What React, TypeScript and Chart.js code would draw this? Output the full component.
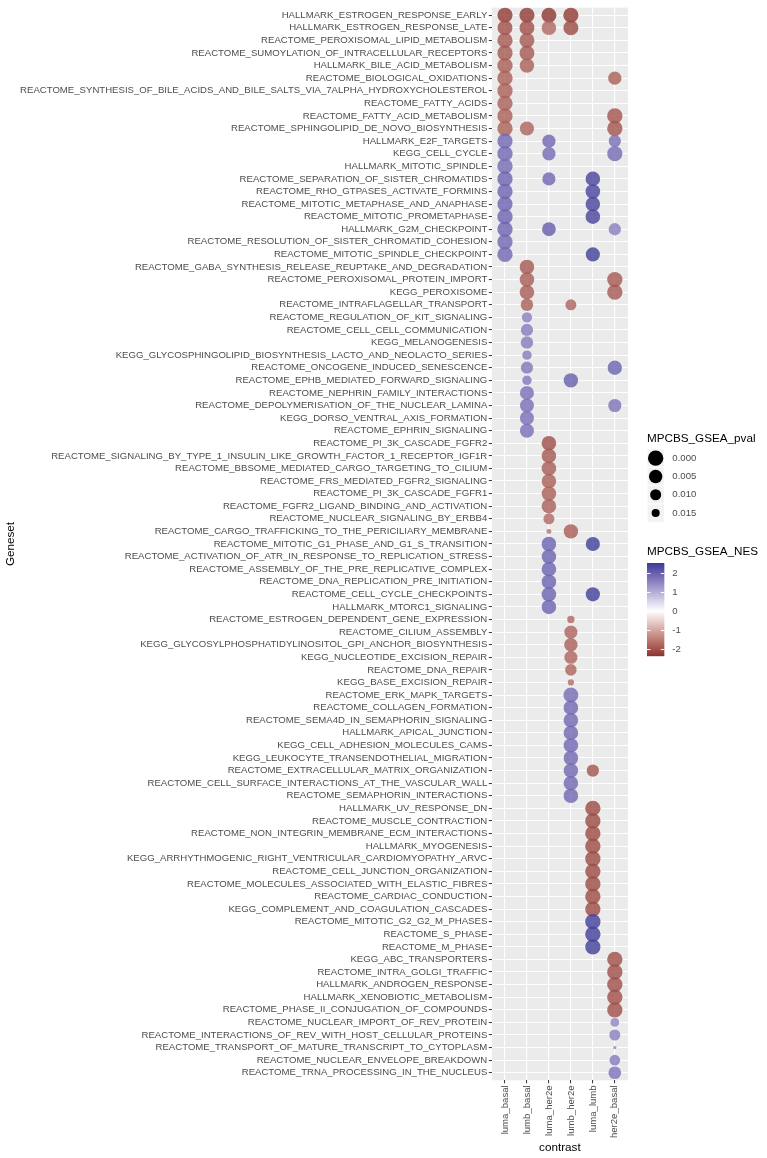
import React, { useEffect, useRef } from "react";
import { Chart, registerables } from "chart.js";
Chart.register(...registerables);

const genesets = [
  "HALLMARK_ESTROGEN_RESPONSE_EARLY",
  "HALLMARK_ESTROGEN_RESPONSE_LATE",
  "REACTOME_PEROXISOMAL_LIPID_METABOLISM",
  "REACTOME_SUMOYLATION_OF_INTRACELLULAR_RECEPTORS",
  "HALLMARK_BILE_ACID_METABOLISM",
  "REACTOME_BIOLOGICAL_OXIDATIONS",
  "REACTOME_SYNTHESIS_OF_BILE_ACIDS_AND_BILE_SALTS_VIA_7ALPHA_HYDROXYCHOLESTEROL",
  "REACTOME_FATTY_ACIDS",
  "REACTOME_FATTY_ACID_METABOLISM",
  "REACTOME_SPHINGOLIPID_DE_NOVO_BIOSYNTHESIS",
  "HALLMARK_E2F_TARGETS",
  "KEGG_CELL_CYCLE",
  "HALLMARK_MITOTIC_SPINDLE",
  "REACTOME_SEPARATION_OF_SISTER_CHROMATIDS",
  "REACTOME_RHO_GTPASES_ACTIVATE_FORMINS",
  "REACTOME_MITOTIC_METAPHASE_AND_ANAPHASE",
  "REACTOME_MITOTIC_PROMETAPHASE",
  "HALLMARK_G2M_CHECKPOINT",
  "REACTOME_RESOLUTION_OF_SISTER_CHROMATID_COHESION",
  "REACTOME_MITOTIC_SPINDLE_CHECKPOINT",
  "REACTOME_GABA_SYNTHESIS_RELEASE_REUPTAKE_AND_DEGRADATION",
  "REACTOME_PEROXISOMAL_PROTEIN_IMPORT",
  "KEGG_PEROXISOME",
  "REACTOME_INTRAFLAGELLAR_TRANSPORT",
  "REACTOME_REGULATION_OF_KIT_SIGNALING",
  "REACTOME_CELL_CELL_COMMUNICATION",
  "KEGG_MELANOGENESIS",
  "KEGG_GLYCOSPHINGOLIPID_BIOSYNTHESIS_LACTO_AND_NEOLACTO_SERIES",
  "REACTOME_ONCOGENE_INDUCED_SENESCENCE",
  "REACTOME_EPHB_MEDIATED_FORWARD_SIGNALING",
  "REACTOME_NEPHRIN_FAMILY_INTERACTIONS",
  "REACTOME_DEPOLYMERISATION_OF_THE_NUCLEAR_LAMINA",
  "KEGG_DORSO_VENTRAL_AXIS_FORMATION",
  "REACTOME_EPHRIN_SIGNALING",
  "REACTOME_PI_3K_CASCADE_FGFR2",
  "REACTOME_SIGNALING_BY_TYPE_1_INSULIN_LIKE_GROWTH_FACTOR_1_RECEPTOR_IGF1R",
  "REACTOME_BBSOME_MEDIATED_CARGO_TARGETING_TO_CILIUM",
  "REACTOME_FRS_MEDIATED_FGFR2_SIGNALING",
  "REACTOME_PI_3K_CASCADE_FGFR1",
  "REACTOME_FGFR2_LIGAND_BINDING_AND_ACTIVATION",
  "REACTOME_NUCLEAR_SIGNALING_BY_ERBB4",
  "REACTOME_CARGO_TRAFFICKING_TO_THE_PERICILIARY_MEMBRANE",
  "REACTOME_MITOTIC_G1_PHASE_AND_G1_S_TRANSITION",
  "REACTOME_ACTIVATION_OF_ATR_IN_RESPONSE_TO_REPLICATION_STRESS",
  "REACTOME_ASSEMBLY_OF_THE_PRE_REPLICATIVE_COMPLEX",
  "REACTOME_DNA_REPLICATION_PRE_INITIATION",
  "REACTOME_CELL_CYCLE_CHECKPOINTS",
  "HALLMARK_MTORC1_SIGNALING",
  "REACTOME_ESTROGEN_DEPENDENT_GENE_EXPRESSION",
  "REACTOME_CILIUM_ASSEMBLY",
  "KEGG_GLYCOSYLPHOSPHATIDYLINOSITOL_GPI_ANCHOR_BIOSYNTHESIS",
  "KEGG_NUCLEOTIDE_EXCISION_REPAIR",
  "REACTOME_DNA_REPAIR",
  "KEGG_BASE_EXCISION_REPAIR",
  "REACTOME_ERK_MAPK_TARGETS",
  "REACTOME_COLLAGEN_FORMATION",
  "REACTOME_SEMA4D_IN_SEMAPHORIN_SIGNALING",
  "HALLMARK_APICAL_JUNCTION",
  "KEGG_CELL_ADHESION_MOLECULES_CAMS",
  "KEGG_LEUKOCYTE_TRANSENDOTHELIAL_MIGRATION",
  "REACTOME_EXTRACELLULAR_MATRIX_ORGANIZATION",
  "REACTOME_CELL_SURFACE_INTERACTIONS_AT_THE_VASCULAR_WALL",
  "REACTOME_SEMAPHORIN_INTERACTIONS",
  "HALLMARK_UV_RESPONSE_DN",
  "REACTOME_MUSCLE_CONTRACTION",
  "REACTOME_NON_INTEGRIN_MEMBRANE_ECM_INTERACTIONS",
  "HALLMARK_MYOGENESIS",
  "KEGG_ARRHYTHMOGENIC_RIGHT_VENTRICULAR_CARDIOMYOPATHY_ARVC",
  "REACTOME_CELL_JUNCTION_ORGANIZATION",
  "REACTOME_MOLECULES_ASSOCIATED_WITH_ELASTIC_FIBRES",
  "REACTOME_CARDIAC_CONDUCTION",
  "KEGG_COMPLEMENT_AND_COAGULATION_CASCADES",
  "REACTOME_MITOTIC_G2_G2_M_PHASES",
  "REACTOME_S_PHASE",
  "REACTOME_M_PHASE",
  "KEGG_ABC_TRANSPORTERS",
  "REACTOME_INTRA_GOLGI_TRAFFIC",
  "HALLMARK_ANDROGEN_RESPONSE",
  "HALLMARK_XENOBIOTIC_METABOLISM",
  "REACTOME_PHASE_II_CONJUGATION_OF_COMPOUNDS",
  "REACTOME_NUCLEAR_IMPORT_OF_REV_PROTEIN",
  "REACTOME_INTERACTIONS_OF_REV_WITH_HOST_CELLULAR_PROTEINS",
  "REACTOME_TRANSPORT_OF_MATURE_TRANSCRIPT_TO_CYTOPLASM",
  "REACTOME_NUCLEAR_ENVELOPE_BREAKDOWN",
  "REACTOME_TRNA_PROCESSING_IN_THE_NUCLEUS",
];

const contrasts = ["luma_basal", "lumb_basal", "luma_her2e", "lumb_her2e", "luma_lumb", "her2e_basal"];

// each entry: [geneset index, NES, pval]
const lumaBasal = [
  [0, -2.3, 0.0005], [1, -2.05, 0.001], [2, -1.95, 0], [3, -1.95, 0], [4, -1.9, 0],
  [5, -1.85, 0], [6, -1.85, 0], [7, -1.85, 0], [8, -1.85, 0], [9, -1.85, 0],
  [10, 1.9, 0], [11, 1.9, 0], [12, 1.85, 0], [13, 1.95, 0], [14, 1.95, 0],
  [15, 1.95, 0], [16, 1.95, 0], [17, 1.95, 0], [18, 1.9, 0], [19, 1.9, 0],
];
const lumbBasal = [
  [0, -2.3, 0.0005], [1, -2.05, 0.001], [2, -1.95, 0.001], [3, -1.95, 0.001], [4, -1.85, 0.002],
  [9, -1.8, 0.003], [20, -1.95, 0.002], [21, -1.9, 0.002], [22, -1.9, 0.002], [23, -1.85, 0.007],
  [24, 1.6, 0.0115], [25, 1.65, 0.0075], [26, 1.65, 0.007], [27, 1.65, 0.013], [28, 1.7, 0.0075],
  [29, 1.7, 0.013], [30, 1.8, 0.0035], [31, 1.8, 0.0035], [32, 1.8, 0.003], [33, 1.8, 0.003],
];
const lumaHer2e = [
  [0, -2.35, 0.001], [1, -1.75, 0.002], [10, 1.9, 0.005], [11, 1.85, 0.005], [13, 1.9, 0.0055],
  [17, 2.05, 0.004], [34, -2.05, 0.002], [35, -1.95, 0.002], [36, -1.9, 0.002], [37, -1.85, 0.002],
  [38, -1.85, 0.002], [39, -1.85, 0.002], [40, -1.75, 0.01], [41, -1.6, 0.0186], [42, 1.95, 0.002],
  [43, 1.95, 0.002], [44, 1.95, 0.002], [45, 1.95, 0.002], [46, 1.95, 0.002], [47, 1.95, 0.002],
];
const lumbHer2e = [
  [0, -2.3, 0.0005], [1, -2.1, 0.001], [23, -1.8, 0.0101], [29, 2.0, 0.0025], [41, -1.9, 0.0025],
  [48, -1.75, 0.016], [49, -1.8, 0.0056], [50, -1.85, 0.0047], [51, -1.8, 0.0056], [52, -1.8, 0.009],
  [53, -1.7, 0.0174], [54, 1.85, 0.001], [55, 1.9, 0.002], [56, 1.9, 0.002], [57, 1.9, 0.002],
  [58, 1.9, 0.002], [59, 1.9, 0.002], [60, 1.9, 0.002], [61, 1.9, 0.002], [62, 1.9, 0.002],
];
const lumaLumb = [
  [13, 2.4, 0.002], [14, 2.4, 0.002], [15, 2.4, 0.002], [16, 2.4, 0.002], [19, 2.45, 0.003],
  [42, 2.45, 0.003], [46, 2.45, 0.003], [60, -2.0, 0.0074], [63, -2.1, 0], [64, -2.1, 0],
  [65, -2.1, 0], [66, -2.1, 0], [67, -2.1, 0], [68, -2.1, 0], [69, -2.1, 0],
  [70, -2.1, 0], [71, -2.1, 0], [72, 2.45, 0], [73, 2.45, 0], [74, 2.45, 0],
];
const her2eBasal = [
  [5, -1.85, 0.0052], [8, -2.0, 0], [9, -2.0, 0], [10, 1.8, 0.0074], [11, 1.85, 0.0005],
  [17, 1.6, 0.0074], [21, -1.95, 0], [22, -1.95, 0], [28, 1.95, 0.0025], [31, 1.75, 0.0056],
  [75, -2.05, 0], [76, -2.05, 0], [77, -2.05, 0], [78, -2.05, 0], [79, -2.05, 0],
  [80, 1.5, 0.0142], [81, 1.6, 0.01], [82, 1.5, 0.0198], [83, 1.65, 0.0107], [84, 1.75, 0.0065],
];
const seriesByContrast = [lumaBasal, lumbBasal, lumaHer2e, lumbHer2e, lumaLumb, her2eBasal];

const pvalBreaks = [0, 0.005, 0.01, 0.015];
const nesBreaks = [2, 1, 0, -1, -2];
const nesLimits = [-2.37, 2.53];

// ---------- styling helpers ----------
const FONT = "'Liberation Sans', Arial, sans-serif";
const LOW = [0x83, 0x24, 0x24];
const MID = [255, 255, 255];
const HIGH = [0x3a, 0x3a, 0x98];

function toLin(c: number) { c /= 255; return c <= 0.04045 ? c / 12.92 : Math.pow((c + 0.055) / 1.055, 2.4); }
function fromLin(c: number) { const v = c <= 0.0031308 ? 12.92 * c : 1.055 * Math.pow(c, 1 / 2.4) - 0.055; return Math.round(Math.max(0, Math.min(1, v)) * 255); }
const Xn = 0.95047, Zn = 1.08883;
function f(t: number) { return t > 0.008856 ? Math.cbrt(t) : 7.787 * t + 16 / 116; }
function finv(t: number) { return t > 0.206893 ? t * t * t : (t - 16 / 116) / 7.787; }
function rgb2lab(c: number[]) {
  const R = toLin(c[0]), G = toLin(c[1]), B = toLin(c[2]);
  const X = (0.4124 * R + 0.3576 * G + 0.1805 * B) / Xn;
  const Y = 0.2126 * R + 0.7152 * G + 0.0722 * B;
  const Z = (0.0193 * R + 0.1192 * G + 0.9505 * B) / Zn;
  const fx = f(X), fy = f(Y), fz = f(Z);
  return [116 * fy - 16, 500 * (fx - fy), 200 * (fy - fz)];
}
function lab2rgb(l: number[]) {
  const fy = (l[0] + 16) / 116, fx = fy + l[1] / 500, fz = fy - l[2] / 200;
  const X = finv(fx) * Xn, Y = finv(fy), Z = finv(fz) * Zn;
  const R = 3.2406 * X - 1.5372 * Y - 0.4986 * Z;
  const G = -0.9689 * X + 1.8758 * Y + 0.0415 * Z;
  const B = 0.0557 * X - 0.204 * Y + 1.057 * Z;
  return [fromLin(R), fromLin(G), fromLin(B)];
}
const labLow = rgb2lab(LOW), labMid = rgb2lab(MID), labHigh = rgb2lab(HIGH);
function nesColor(v: number, alpha: number) {
  const m = Math.max(Math.abs(nesLimits[0]), Math.abs(nesLimits[1]));
  let t = Math.max(-1, Math.min(1, v / m));
  const end = t < 0 ? labLow : labHigh;
  t = Math.abs(t);
  const lab = [0, 1, 2].map((i) => labMid[i] + (end[i] - labMid[i]) * t);
  const c = lab2rgb(lab);
  return `rgba(${c[0]},${c[1]},${c[2]},${alpha})`;
}
function pvalDiameter(p: number) { return Math.sqrt(Math.max(6, 235 - 11300 * p)); }

const DOT_ALPHA = 0.8;

const ggLegend = {
  id: "ggLegend",
  beforeDraw(chart: any) {
    const { ctx, chartArea: a } = chart;
    ctx.save();
    ctx.fillStyle = "#EBEBEB";
    ctx.fillRect(a.left, a.top, a.right - a.left, a.bottom - a.top);
    ctx.restore();
  },
  afterDraw(chart: any) {
    const { ctx, chartArea: a } = chart;
    ctx.save();
    // y axis title
    ctx.fillStyle = "#000";
    ctx.font = `11.7px ${FONT}`;
    ctx.textAlign = "center";
    ctx.textBaseline = "middle";
    ctx.translate(11, (a.top + a.bottom) / 2);
    ctx.rotate(-Math.PI / 2);
    ctx.fillText("Geneset", 0, 0);
    ctx.restore();

    ctx.save();
    const lx = a.right + 19;
    // size legend
    ctx.fillStyle = "#000";
    ctx.font = `11.7px ${FONT}`;
    ctx.textAlign = "left";
    ctx.textBaseline = "middle";
    ctx.fillText("MPCBS_GSEA_pval", lx, 438.5);
    const keyW = 17.3, keyH = 18.3, keyTop = 449;
    pvalBreaks.forEach((p, i) => {
      const cy = keyTop + keyH * i + keyH / 2;
      ctx.fillStyle = "#F2F2F2";
      ctx.fillRect(lx, keyTop + keyH * i, keyW, keyH);
      ctx.strokeStyle = "#FFFFFF";
      ctx.lineWidth = 1;
      ctx.strokeRect(lx, keyTop + keyH * i, keyW, keyH);
      ctx.fillStyle = "#000";
      ctx.beginPath();
      ctx.arc(lx + keyW / 2, cy, pvalDiameter(p) / 2, 0, Math.PI * 2);
      ctx.fill();
      ctx.fillStyle = "#4D4D4D";
      ctx.font = `9.6px ${FONT}`;
      ctx.fillText(p.toFixed(3), lx + keyW + 8, cy);
    });

    // colour bar legend
    ctx.fillStyle = "#000";
    ctx.font = `11.7px ${FONT}`;
    ctx.fillText("MPCBS_GSEA_NES", lx, 552);
    const barTop = 563, barH = 93, barW = 17.3;
    const [lo, hi] = nesLimits;
    for (let k = 0; k < barH; k++) {
      const v = hi - ((k + 0.5) / barH) * (hi - lo);
      ctx.fillStyle = nesColor(v, 1);
      ctx.fillRect(lx, barTop + k, barW, 1.2);
    }
    const yOf = (v: number) => barTop + ((hi - v) / (hi - lo)) * barH;
    ctx.strokeStyle = "#FFFFFF";
    ctx.lineWidth = 1;
    nesBreaks.forEach((b) => {
      const y = Math.round(yOf(b)) + 0.5;
      ctx.beginPath();
      ctx.moveTo(lx, y); ctx.lineTo(lx + barW / 5, y);
      ctx.moveTo(lx + barW, y); ctx.lineTo(lx + barW - barW / 5, y);
      ctx.stroke();
      ctx.fillStyle = "#4D4D4D";
      ctx.font = `9.6px ${FONT}`;
      ctx.fillText(String(b), lx + barW + 8, yOf(b));
    });
    ctx.restore();
  },
};

export default function App() {
  const ref = useRef<HTMLCanvasElement>(null);
  useEffect(() => {
    if (!ref.current) return;
    const points: any[] = [];
    seriesByContrast.forEach((arr, ci) => {
      arr.forEach(([row, nes, p]) => points.push({ x: ci, y: row, nes, p }));
    });
    const axisTickFont = { family: FONT, size: 9.6 };
    const chart = new Chart(ref.current, {
      type: "scatter",
      data: {
        datasets: [
          {
            data: points,
            backgroundColor: (c: any) => nesColor(c.raw ? c.raw.nes : 0, DOT_ALPHA),
            borderWidth: 0,
            pointRadius: (c: any) => (c.raw ? pvalDiameter(c.raw.p) / 2 : 3),
            pointHoverRadius: (c: any) => (c.raw ? pvalDiameter(c.raw.p) / 2 : 3),
            clip: false,
          } as any,
        ],
      },
      options: {
        responsive: false,
        animation: false,
        events: [],
        layout: { padding: { top: 5.7, right: 767 - 628, bottom: 0, left: 0 } },
        plugins: { legend: { display: false }, tooltip: { enabled: false } },
        scales: {
          x: {
            type: "linear",
            min: -0.6,
            max: contrasts.length - 1 + 0.6,
            afterBuildTicks: (s: any) => { s.ticks = contrasts.map((_, i) => ({ value: i })); },
            afterFit: (s: any) => { s.height = 1158 - 1080.3; },
            ticks: {
              autoSkip: false,
              minRotation: 90,
              maxRotation: 90,
              padding: 2,
              color: "#4D4D4D",
              font: axisTickFont,
              callback: (v: any) => contrasts[v],
            },
            grid: { color: "#FFFFFF", lineWidth: 1.1, tickColor: "#333333", tickLength: 3, tickWidth: 1 },
            border: { display: false },
            title: { display: true, text: "contrast", color: "#000", font: { family: FONT, size: 11.7 }, padding: { top: 2, bottom: 3 } },
          },
          y: {
            type: "linear",
            reverse: true,
            min: -0.6,
            max: genesets.length - 1 + 0.6,
            afterBuildTicks: (s: any) => { s.ticks = genesets.map((_, i) => ({ value: i })); },
            afterFit: (s: any) => { s.width = 491.8; },
            ticks: {
              autoSkip: false,
              padding: 1.5,
              color: "#4D4D4D",
              font: axisTickFont,
              callback: (v: any) => genesets[v],
            },
            grid: { color: "#FFFFFF", lineWidth: 1.1, tickColor: "#333333", tickLength: 3, tickWidth: 1 },
            border: { display: false },
          },
        },
      } as any,
      plugins: [ggLegend],
    });
    return () => chart.destroy();
  }, []);
  return (
    <div style={{ position: "absolute", left: 0, top: 0, width: 767, height: 1158, background: "#fff" }}>
      <canvas ref={ref} width={767} height={1158} style={{ display: "block" }} />
    </div>
  );
}
